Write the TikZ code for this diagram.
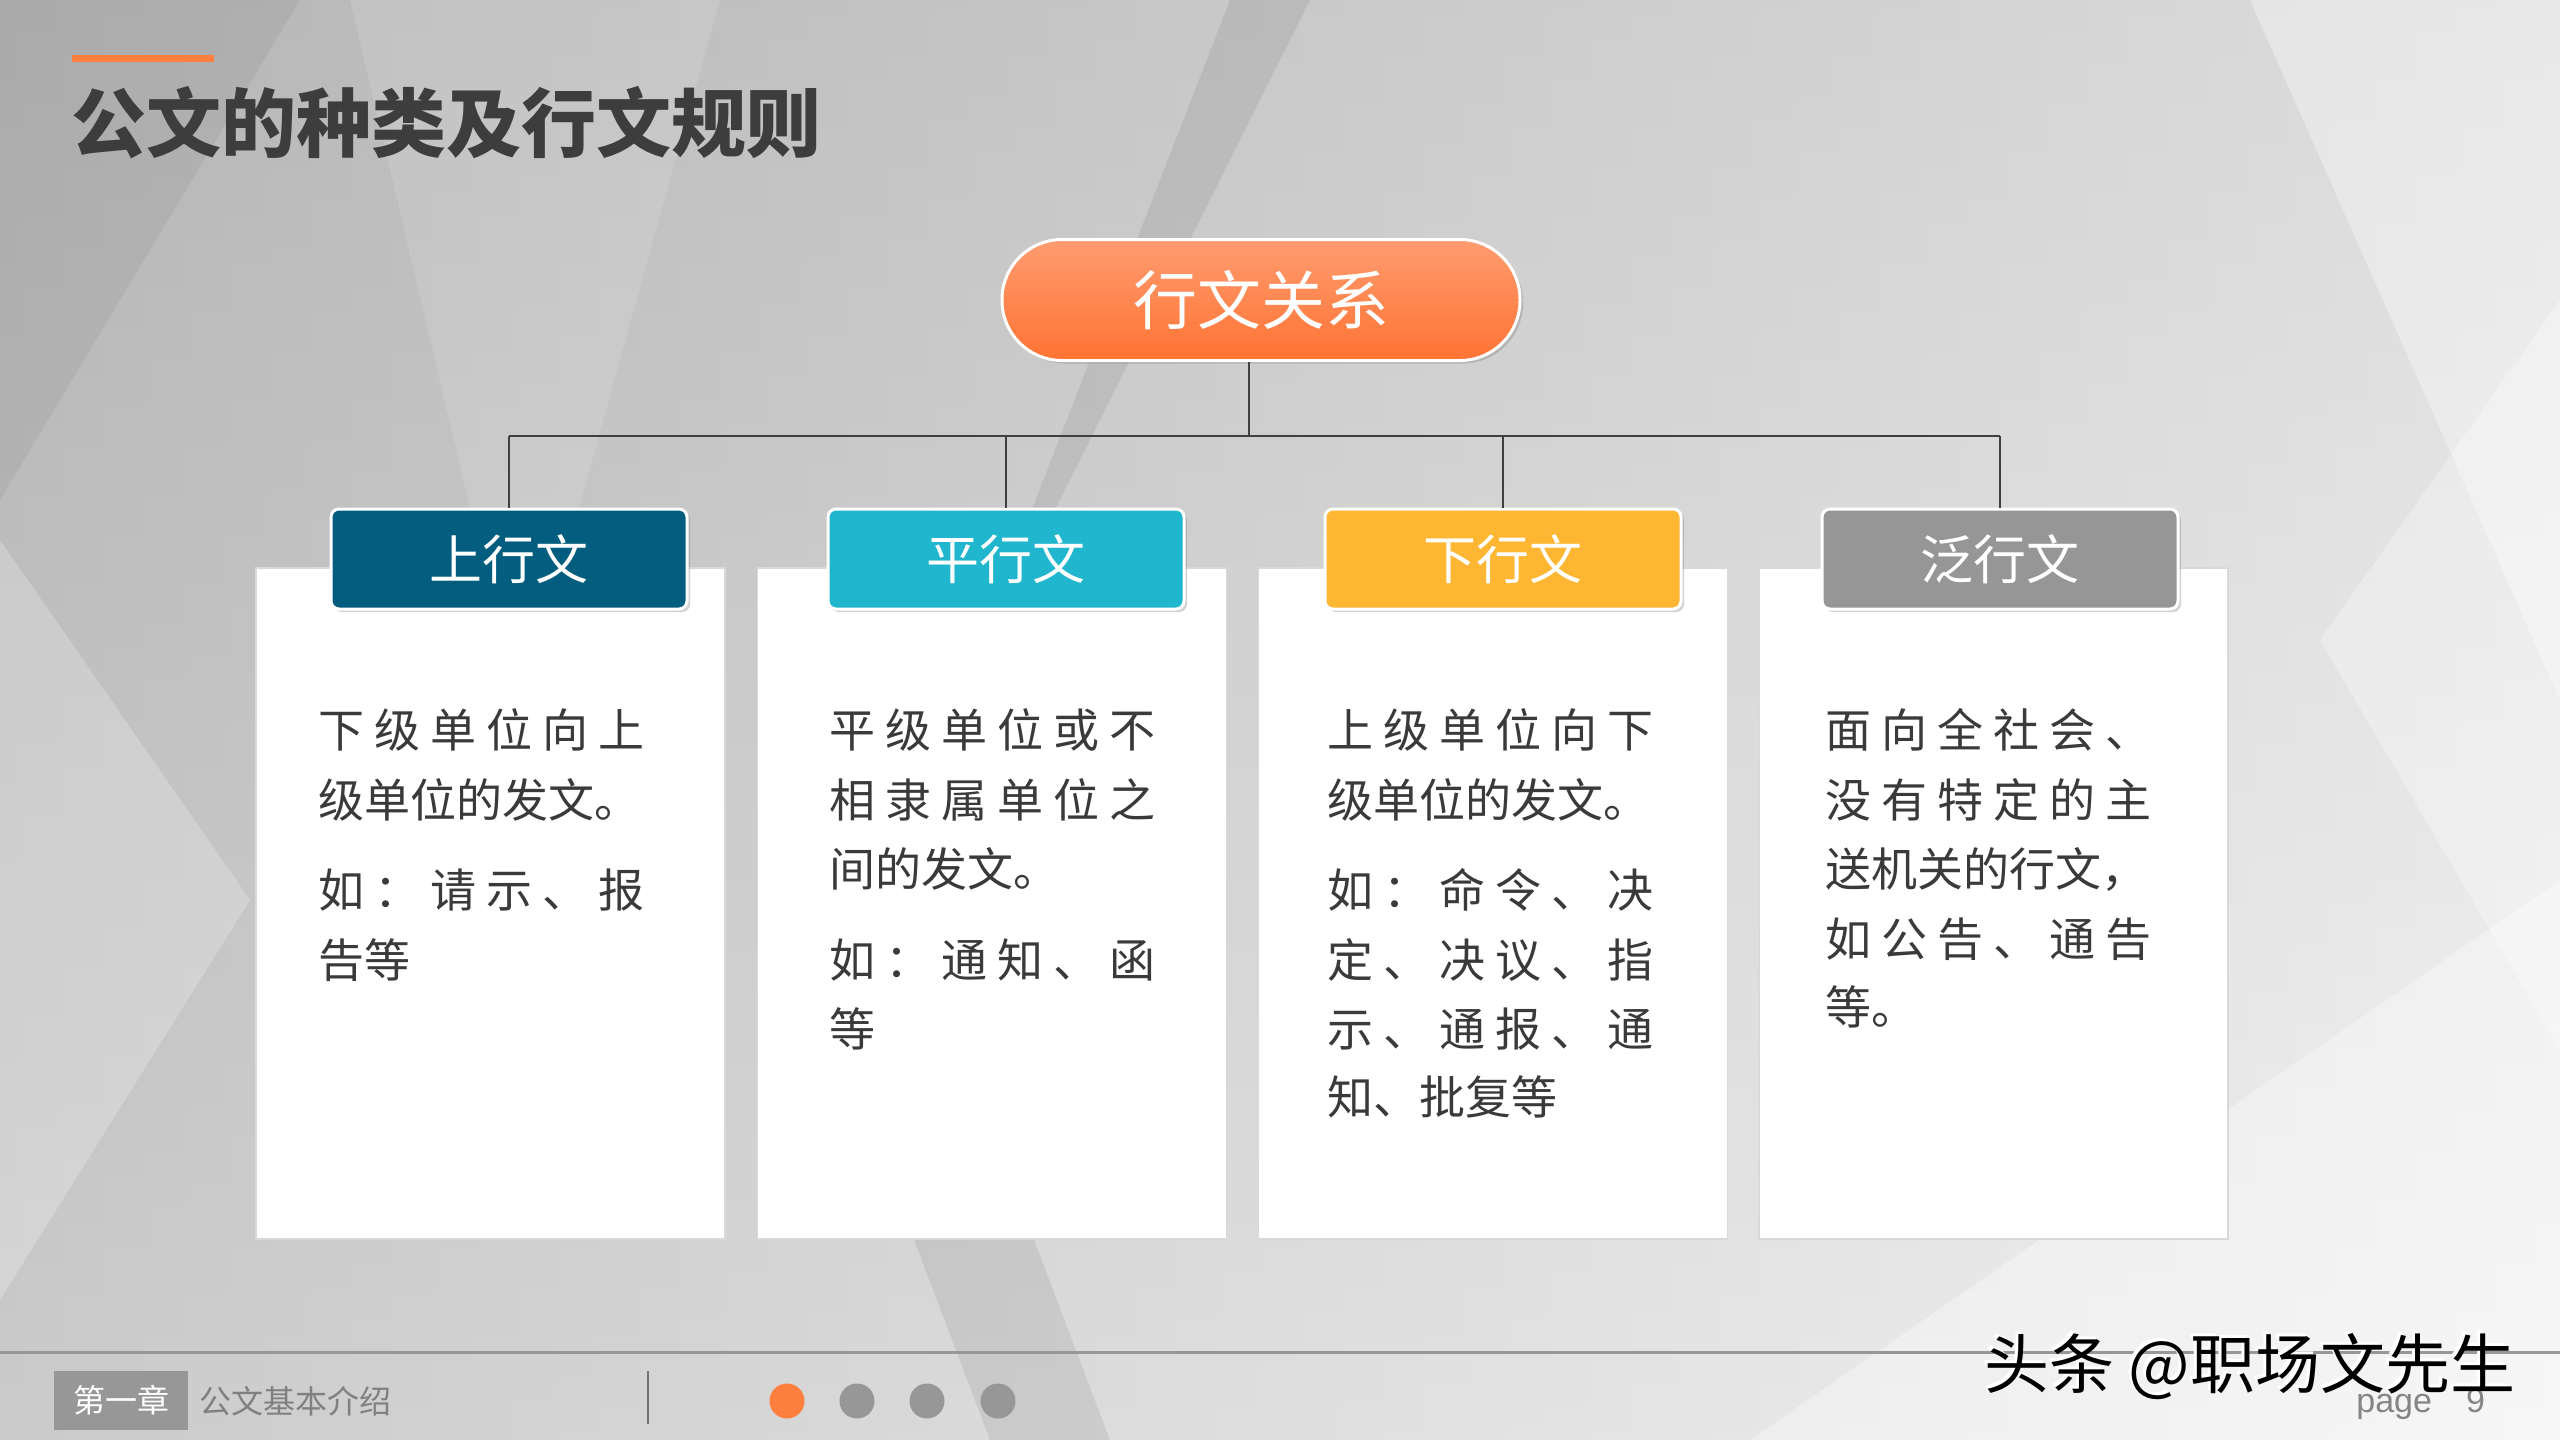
\documentclass[tikz,border=0pt]{standalone}
\usepackage{fontspec}
\setmainfont{Noto Sans CJK SC}
\newfontfamily\cjk{Noto Sans CJK SC}
\newfontfamily\latsans{Liberation Sans}
\usetikzlibrary{shadows}
\definecolor{titlegray}{HTML}{3D3D3D}
\definecolor{accent}{HTML}{FF7F3F}
\definecolor{hone}{HTML}{035D7E}
\definecolor{htwo}{HTML}{1FB6CE}
\definecolor{hthree}{HTML}{FFB632}
\definecolor{hfour}{HTML}{969696}
\definecolor{bodytext}{HTML}{3A3A3A}
\definecolor{footgray}{HTML}{979797}
\definecolor{connector}{HTML}{3F3F3F}
\definecolor{pilltop}{HTML}{FF9C70}
\definecolor{pillbot}{HTML}{FF7333}
\definecolor{bgleft}{HTML}{AFAFAF}
\definecolor{bgright}{HTML}{EDEDED}
\definecolor{bgtop}{HTML}{C0C0C0}
\newcommand\J[1]{\makebox[163pt][s]{#1}}
\tikzset{
  pill/.style={rectangle, rounded corners=30pt, minimum width=259pt, minimum height=60.5pt,
    top color=pilltop, bottom color=pillbot,
    draw=white, line width=1.5pt, text=white, font=\cjk\fontsize{32pt}{32pt}\selectfont,
    drop shadow={opacity=0.35, shadow xshift=1.5pt, shadow yshift=-1.5pt}},
  hdr/.style={rectangle, rounded corners=4pt, minimum width=178pt, minimum height=50pt,
    draw=white, line width=1.5pt, text=white, font=\cjk\fontsize{26.5pt}{26.5pt}\selectfont,
    drop shadow={opacity=0.35, shadow xshift=1.5pt, shadow yshift=-1.5pt}},
  card/.style={rectangle, minimum width=234.5pt, minimum height=335.5pt, fill=white,
    draw=black!15, line width=0.8pt},
  bodyline/.style={anchor=west, inner sep=0pt, text=bodytext, font=\cjk\fontsize{23pt}{23pt}\selectfont},
  link/.style={draw=connector, line width=1pt},
  dot/.style={circle, minimum size=17.5pt, inner sep=0pt},
}
\begin{document}
\begin{tikzpicture}[x=0.5pt,y=-0.5pt]
\useasboundingbox (0,0) rectangle (2560,1440);
% background
\shade[left color=bgleft, right color=bgright] (0,0) rectangle (2560,1440);
\shade[top color=bgtop, bottom color=white, opacity=0.35] (0,0) rectangle (2560,1440);
\fill[white, opacity=0.22] (0,540) -- (250,900) -- (0,1300) -- cycle;
\fill[white, opacity=0.12] (350,0) -- (720,0) -- (520,720) -- cycle;
\fill[black, opacity=0.07] (1230,0) -- (1310,0) -- (950,720) -- cycle;
\fill[white, opacity=0.35] (2250,0) -- (2560,0) -- (2560,700) -- cycle;
\fill[white, opacity=0.3] (2320,640) -- (2560,300) -- (2560,1050) -- cycle;
\fill[white, opacity=0.35] (1750,1440) -- (2560,880) -- (2560,1440) -- cycle;
\fill[black, opacity=0.07] (880,1150) -- (1000,1150) -- (1110,1440) -- (990,1440) -- cycle;
\fill[black, opacity=0.05] (0,0) -- (300,0) -- (0,500) -- cycle;
% title
\fill[accent] (72,55) rectangle (214,62);
\node[anchor=west, inner sep=0pt, text=titlegray, font=\cjk\bfseries\fontsize{37.5pt}{37.5pt}\selectfont] (title) at (71,123) {公文的种类及行文规则};
% cards
\node[card] (k1) at (490.5,903.5) {};
\node[card] (k2) at (992,903.5) {};
\node[card] (k3) at (1493,903.5) {};
\node[card] (k4) at (1993.5,903.5) {};
% top node and headers
\node[pill] (top) at (1261,300) {行文关系};
\node[hdr, fill=hone] (h1) at (509,559) {上行文};
\node[hdr, fill=htwo] (h2) at (1006,559) {平行文};
\node[hdr, fill=hthree] (h3) at (1503,559) {下行文};
\node[hdr, fill=hfour] (h4) at (2000,559) {泛行文};
% connectors
\coordinate (bus) at (1249,436);
\draw[link] (top.south -| bus) -- (bus);
\draw[link] (h1.north |- bus) -- (h4.north |- bus);
\draw[link] (h1.north |- bus) -- (h1.north);
\draw[link] (h2.north |- bus) -- (h2.north);
\draw[link] (h3.north |- bus) -- (h3.north);
\draw[link] (h4.north |- bus) -- (h4.north);
% card 1 text
\node[bodyline] (a1) at (318,730) {\J{下\hfill 级\hfill 单\hfill 位\hfill 向\hfill 上}};
\node[bodyline] (a2) at (318,800) {级单位的发文。};
\node[bodyline] (a3) at (318,890) {\J{如\hfill ：\hfill 请\hfill 示\hfill 、\hfill 报}};
\node[bodyline] (a4) at (318,960) {告等};
% card 2 text
\node[bodyline] (b1) at (829,730) {\J{平\hfill 级\hfill 单\hfill 位\hfill 或\hfill 不}};
\node[bodyline] (b2) at (829,800) {\J{相\hfill 隶\hfill 属\hfill 单\hfill 位\hfill 之}};
\node[bodyline] (b3) at (829,869) {间的发文。};
\node[bodyline] (b4) at (829,960) {\J{如\hfill ：\hfill 通\hfill 知\hfill 、\hfill 函}};
\node[bodyline] (b5) at (829,1029) {等};
% card 3 text
\node[bodyline] (c1) at (1327,730) {\J{上\hfill 级\hfill 单\hfill 位\hfill 向\hfill 下}};
\node[bodyline] (c2) at (1327,800) {级单位的发文。};
\node[bodyline] (c3) at (1327,890) {\J{如\hfill ：\hfill 命\hfill 令\hfill 、\hfill 决}};
\node[bodyline] (c4) at (1327,960) {\J{定\hfill 、\hfill 决\hfill 议\hfill 、\hfill 指}};
\node[bodyline] (c5) at (1327,1029) {\J{示\hfill 、\hfill 通\hfill 报\hfill 、\hfill 通}};
\node[bodyline] (c6) at (1327,1097) {知、批复等};
% card 4 text
\node[bodyline] (d1) at (1825,730) {\J{面\hfill 向\hfill 全\hfill 社\hfill 会\hfill 、}};
\node[bodyline] (d2) at (1825,800) {\J{没\hfill 有\hfill 特\hfill 定\hfill 的\hfill 主}};
\node[bodyline] (d3) at (1825,869) {送机关的行文，};
\node[bodyline] (d4) at (1825,939) {\J{如\hfill 公\hfill 告\hfill 、\hfill 通\hfill 告}};
\node[bodyline] (d5) at (1825,1007) {等。};
% footer
\draw[draw=footgray, line width=1.5pt] (0,1352) -- (2560,1352);
\node[rectangle, fill=footgray, minimum width=67pt, minimum height=29.5pt, inner sep=0pt,
  text=white, font=\cjk\fontsize{16pt}{16pt}\selectfont] (chap) at (121,1400.5) {第一章};
\node[anchor=west, inner sep=0pt, text=black!50, font=\cjk\fontsize{16pt}{16pt}\selectfont] (chapname) at (199,1401) {公文基本介绍};
\draw[draw=black!55, line width=0.8pt] (648,1371) -- (648,1424);
\node[dot, fill=accent] (p1) at (787,1401) {};
\node[dot, fill=footgray] (p2) at (857,1401) {};
\node[dot, fill=footgray] (p3) at (927,1401) {};
\node[dot, fill=footgray] (p4) at (998,1401) {};
\node[anchor=west, inner sep=0pt, text=black!48, font=\latsans\fontsize{17pt}{17pt}\selectfont] (pg) at (2356,1404) {page\quad 9};
\node[anchor=west, inner sep=0pt, text=white, font=\cjk\fontsize{32.5pt}{32.5pt}\selectfont] (wmw) at (1981,1364) {头条 @职场文先生};
\node[anchor=west, inner sep=0pt, text=black, font=\cjk\fontsize{32.5pt}{32.5pt}\selectfont] (wm) at (1984,1367) {头条 @职场文先生};
\end{tikzpicture}
\end{document}
